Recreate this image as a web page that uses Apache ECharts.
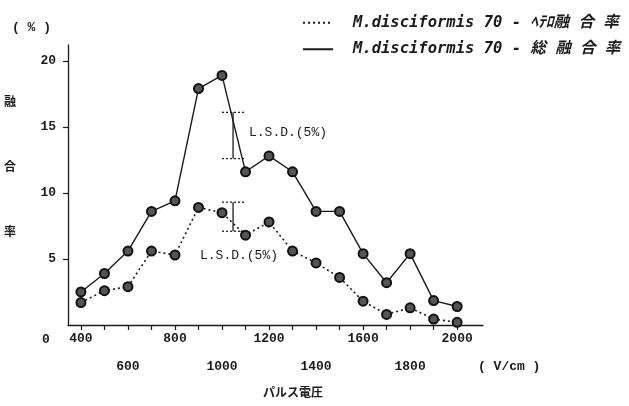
<!DOCTYPE html>
<html>
<head>
    <meta charset="UTF-8">
    <title>パルス電圧と融合率</title>
    <script src="https://cdn.jsdelivr.net/npm/echarts@6.0.0/dist/echarts.min.js"></script>
    <style>
        html, body { margin: 0; padding: 0; background: #fff; }
        #chart { width: 629px; height: 406px; }
    </style>
</head>
<body>
    <div id="chart"></div>
    <script type="text/javascript">
        // pulse voltage (V/cm)
        var voltage = [400, 500, 600, 700, 800, 900, 1000, 1100, 1200, 1300, 1400, 1500, 1600, 1700, 1800, 1900, 2000];
        // hetero fusion rate (%)
        var heteroRate = [1.7, 2.6, 2.9, 5.6, 5.3, 8.9, 8.5, 6.8, 7.8, 5.6, 4.7, 3.6, 1.8, 0.8, 1.3, 0.45, 0.2];
        // total fusion rate (%)
        var totalRate = [2.5, 3.9, 5.6, 8.6, 9.4, 17.9, 18.9, 11.6, 12.8, 11.6, 8.6, 8.6, 5.4, 3.2, 5.4, 1.85, 1.4];
        // L.S.D.(5%) bars: [x, low, high]
        var lsdBars = [[1047, 12.6, 16.1], [1047, 7.1, 9.3]];

        var heteroName = 'M.disciformis 70 - ﾍﾃﾛ融\u2004合\u2004率';
        var totalName = 'M.disciformis 70 - 総\u2004融\u2004合\u2004率';

        var xTickValues = [400, 500, 600, 700, 800, 900, 1000, 1100, 1200, 1300, 1400, 1500, 1600, 1700, 1800, 1900, 2000];
        var xLabelValues = [400, 600, 800, 1000, 1200, 1400, 1600, 1800, 2000];
        var yTickValues = [5, 10, 15, 20];

        var ink = '#1a1a1a';
        var mono = '"Liberation Mono", "DejaVu Sans Mono", monospace';
        var cjk = '"Noto Sans CJK JP", sans-serif';

        var chart = echarts.init(document.getElementById('chart'));

        function pairs(ys) {
            return voltage.map(function (v, i) { return [v, ys[i]]; });
        }

        var option = {
            backgroundColor: '#fff',
            animation: false,
            grid: { left: 68, right: 146, top: 45, bottom: 81 },
            legend: {
                orient: 'vertical',
                left: 297,
                top: 10,
                itemWidth: 30,
                itemHeight: 14,
                itemGap: 11,
                data: [heteroName, totalName],
                itemStyle: { opacity: 0 },
                textStyle: {
                    color: ink,
                    fontFamily: '"DejaVu Sans Mono", "Noto Sans CJK JP", monospace',
                    fontStyle: 'italic',
                    fontWeight: 'bold',
                    fontSize: 15.5,
                    padding: [0, 0, 0, 15]
                }
            },
            xAxis: {
                type: 'value',
                min: 345,
                max: 2110,
                splitLine: { show: false },
                axisLine: { onZero: false, lineStyle: { color: ink, width: 1.3 } },
                axisTick: { customValues: xTickValues, length: 5, lineStyle: { color: ink, width: 1.2 } },
                axisLabel: {
                    customValues: xLabelValues,
                    margin: 0,
                    color: ink,
                    fontFamily: mono,
                    fontWeight: 'bold',
                    fontSize: 13,
                    lineHeight: 28,
                    formatter: function (v) {
                        return (v / 200) % 2 === 1 ? '\n' + v : String(v);
                    }
                }
            },
            yAxis: {
                type: 'value',
                min: 0,
                max: 21.2,
                splitLine: { show: false },
                axisLine: { show: true, lineStyle: { color: ink, width: 1.3 } },
                axisTick: { customValues: yTickValues, length: 5, lineStyle: { color: ink, width: 1.2 } },
                axisLabel: {
                    customValues: yTickValues,
                    margin: 12,
                    color: ink,
                    fontFamily: mono,
                    fontWeight: 'bold',
                    fontSize: 13
                }
            },
            series: [
                {
                    name: heteroName,
                    type: 'line',
                    data: pairs(heteroRate),
                    symbol: 'circle',
                    symbolSize: 9,
                    lineStyle: { color: ink, width: 1.6, type: [2, 3] },
                    itemStyle: { color: '#555', borderColor: '#111', borderWidth: 2 },
                    z: 3
                },
                {
                    name: totalName,
                    type: 'line',
                    data: pairs(totalRate),
                    symbol: 'circle',
                    symbolSize: 9,
                    lineStyle: { color: ink, width: 1.4 },
                    itemStyle: { color: '#555', borderColor: '#111', borderWidth: 2 },
                    z: 3
                },
                {
                    name: 'L.S.D.',
                    type: 'custom',
                    data: lsdBars,
                    encode: { x: 0, y: [1, 2] },
                    renderItem: function (params, api) {
                        var x = api.value(0);
                        var lo = api.coord([x, api.value(1)]);
                        var hi = api.coord([x, api.value(2)]);
                        var w = 11;
                        var solid = { stroke: ink, lineWidth: 1.3 };
                        var dash = { stroke: ink, lineWidth: 1.3, lineDash: [2, 2] };
                        return {
                            type: 'group',
                            children: [
                                { type: 'line', shape: { x1: lo[0], y1: lo[1], x2: hi[0], y2: hi[1] }, style: solid },
                                { type: 'line', shape: { x1: hi[0] - w, y1: hi[1], x2: hi[0] + w, y2: hi[1] }, style: dash },
                                { type: 'line', shape: { x1: lo[0] - w, y1: lo[1], x2: lo[0] + w, y2: lo[1] }, style: dash }
                            ]
                        };
                    },
                    z: 2
                }
            ],
            graphic: [
                { type: 'text', left: 12, top: 21, style: { text: '( % )', font: 'bold 13px ' + mono, fill: ink } },
                { type: 'text', left: 4, top: 95, style: { text: '融', font: 'bold 12px ' + cjk, fill: ink } },
                { type: 'text', left: 4, top: 160, style: { text: '合', font: 'bold 12px ' + cjk, fill: ink } },
                { type: 'text', left: 4, top: 225, style: { text: '率', font: 'bold 12px ' + cjk, fill: ink } },
                { type: 'text', left: 42, top: 333, style: { text: '0', font: 'bold 13px ' + mono, fill: ink } },
                { type: 'text', left: 478, top: 360, style: { text: '( V/cm )', font: 'bold 13px ' + mono, fill: ink } },
                { type: 'text', left: 263, top: 386, style: { text: 'パルス電圧', font: 'bold 12px ' + cjk, fill: ink } },
                { type: 'text', left: 249, top: 126, style: { text: 'L.S.D.(5%)', font: '13px ' + mono, fill: ink } },
                { type: 'text', left: 200, top: 249, style: { text: 'L.S.D.(5%)', font: '13px ' + mono, fill: ink } }
            ]
        };

        chart.setOption(option);
    </script>
</body>
</html>
